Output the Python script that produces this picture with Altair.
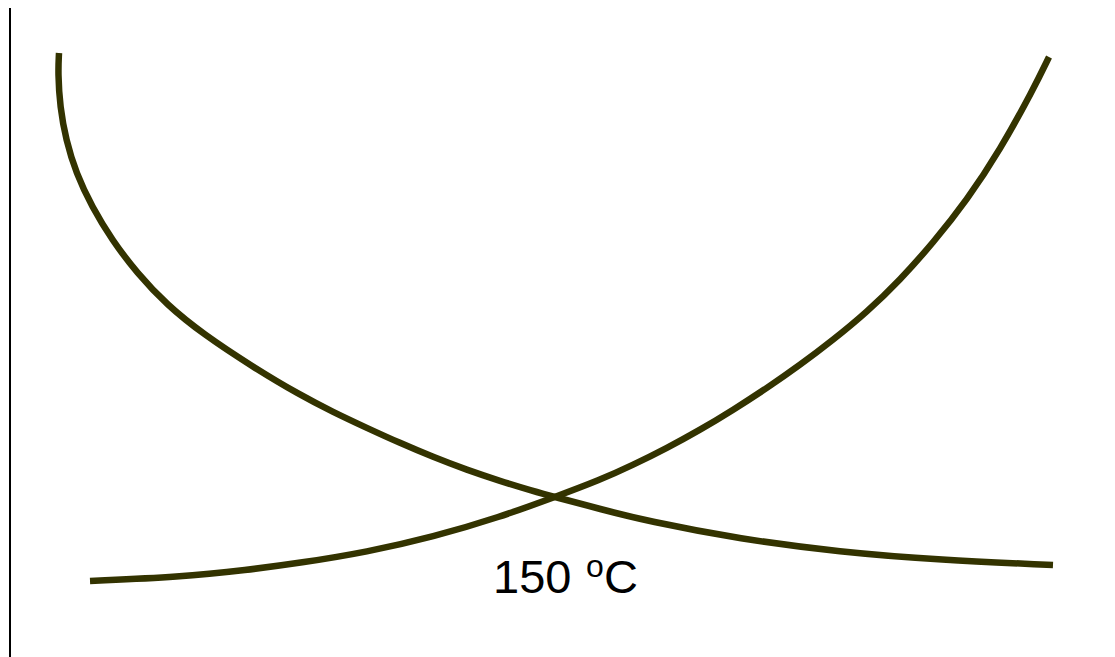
import altair as alt
import pandas as pd

# Curve falling (x right, y up from bottom)
fall_x = [51, 50, 52, 58, 68, 84, 104, 129, 159, 195, 245, 292, 325, 359, 392, 425,
          459, 492, 525, 547, 592, 639, 732, 832, 932, 1045]
fall_y = [604, 584, 550, 517, 484, 450, 417, 384, 352, 323, 290, 262, 245, 229, 214, 200,
          187, 176, 166, 160, 148, 136, 118, 105, 97, 92]

# Curve rising
rise_x = [82, 172, 239, 292, 359, 425, 492, 547, 592, 625, 659, 692, 725, 759, 792, 825,
          859, 892, 925, 959, 992, 1025, 1041]
rise_y = [76, 80, 87, 94, 105, 120, 140, 160, 177, 192, 209, 227, 247, 269, 292, 317,
          345, 377, 414, 457, 507, 567, 600]

# Left vertical rule
rule_x = [2]
rule_y = [0]
rule_y2 = [652]

# Label pieces
label_text = ["150", "o", "C"]
label_x = [485, 578, 596]
label_y = [64, 80, 64]
label_size = [47, 32, 47]

W, H = 1099, 649
xs = alt.Scale(domain=[0, W], nice=False, zero=False)
ys = alt.Scale(domain=[0, H], nice=False, zero=False)

df = pd.DataFrame(
    {"x": fall_x, "y": fall_y, "i": list(range(len(fall_x))), "s": "fall"}
)
df2 = pd.DataFrame(
    {"x": rise_x, "y": rise_y, "i": list(range(len(rise_x))), "s": "rise"}
)
curves = pd.concat([df, df2], ignore_index=True)

lines = alt.Chart(curves).mark_line(
    interpolate="basis", strokeWidth=6.5, color="#333300", strokeCap="butt"
).encode(
    x=alt.X("x:Q", scale=xs, axis=None),
    y=alt.Y("y:Q", scale=ys, axis=None),
    detail="s:N",
    order="i:Q",
)

rule = alt.Chart(pd.DataFrame({"x": rule_x, "y": rule_y, "y2": rule_y2})).mark_rule(
    color="black", strokeWidth=2
).encode(
    x=alt.X("x:Q", scale=xs, axis=None),
    y=alt.Y("y:Q", scale=ys, axis=None),
    y2="y2:Q",
)

lab = pd.DataFrame({"t": label_text, "x": label_x, "y": label_y, "sz": label_size})
texts = []
for i in range(len(label_text)):
    texts.append(
        alt.Chart(lab.iloc[[i]]).mark_text(
            align="left", baseline="alphabetic", font="Liberation Sans",
            fontSize=label_size[i], color="black"
        ).encode(
            x=alt.X("x:Q", scale=xs, axis=None),
            y=alt.Y("y:Q", scale=ys, axis=None),
            text="t:N",
        )
    )

chart = alt.layer(rule, lines, *texts).properties(
    width=W, height=H, padding=0, autosize="none", background="white"
).configure_view(stroke=None)

chart.save("out.html", embed_options={"renderer": "svg", "actions": False})
